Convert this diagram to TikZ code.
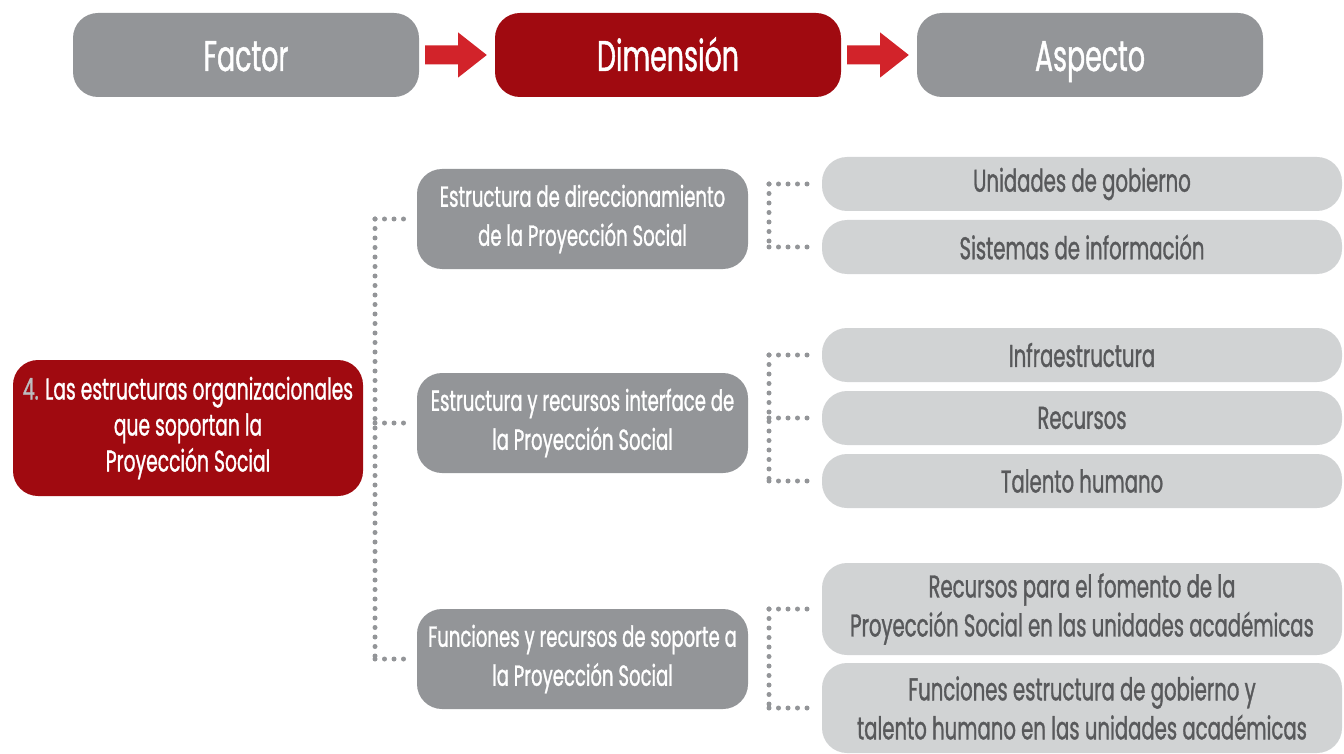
\documentclass[tikz,border=0pt]{standalone}
\usepackage{fontspec}
\setmainfont{Poppins}[FakeStretch=0.624, FakeBold=1]
\usetikzlibrary{calc}
\definecolor{hgray}{HTML}{939598}
\definecolor{hred}{HTML}{A00A10}
\definecolor{lgray}{HTML}{D1D3D4}
\definecolor{ared}{HTML}{D2232A}
\definecolor{tgray}{HTML}{58595B}
\definecolor{ngray}{HTML}{BCBEC0}
\tikzset{
  hdr/.style={rounded corners=25pt, minimum width=346pt, minimum height=84pt, inner sep=0pt, text=white, text height=32pt, text depth=0pt, font=\fontsize{43}{47}\selectfont},
  dimbox/.style={rounded corners=25pt, fill=hgray, minimum width=331pt, minimum height=100pt, inner sep=0pt, text=white, align=center, font=\fontsize{29}{39}\selectfont},
  aspbox/.style={rounded corners=25pt, fill=lgray, minimum width=520pt, minimum height=54pt, inner sep=0pt, text=tgray, align=center, font=\fontsize{31.5}{39}\selectfont},
  factbox/.style={rounded corners=25pt, fill=hred, minimum width=350pt, minimum height=136pt, inner sep=0pt, text=white, align=center, font=\fontsize{30}{36}\selectfont},
  dotline/.style={draw=hgray, line width=5pt, line cap=round, dash pattern=on 0pt off 9.5pt},
}
\begin{document}
\begin{tikzpicture}[x=1pt,y=-1pt]
\useasboundingbox (0,0) rectangle (1344,754);
% header
\node[hdr, fill=hgray] (fac) at (246,55) {Factor};
\node[hdr, fill=hred] (dim) at (668,55) {Dimensión};
\node[hdr, fill=hgray] (asp) at (1090,55) {Aspecto};
\foreach \a/\b in {fac/dim, dim/asp}{
  \fill[ared] ($(\a.east)+(6,-9.5)$) -- ($(\a.east)+(39,-9.5)$) -- ($(\a.east)+(39,-22.5)$)
    -- ($(\b.west)+(-8,0)$) -- ($(\a.east)+(39,22.5)$) -- ($(\a.east)+(39,9.5)$)
    -- ($(\a.east)+(6,9.5)$) -- cycle;
}
% factor
\node[factbox] (f4) at (188,428) {{\color{ngray}4.} Las estructuras organizacionales\\que soportan la\\Proyección Social};
% dimensions
\node[dimbox] (d1) at (582.5,219) {Estructura de direccionamiento\\de la Proyección Social};
\node[dimbox] (d2) at (582.5,423) {Estructura y recursos interface de\\la Proyección Social};
\node[dimbox] (d3) at (582.5,659) {Funciones y recursos de soporte a\\la Proyección Social};
% aspects
\node[aspbox] (a1) at (1082,184) {Unidades de gobierno};
\node[aspbox] (a2) at (1082,247) {Sistemas de información};
\node[aspbox] (a3) at (1082,355) {Infraestructura};
\node[aspbox] (a4) at (1082,418) {Recursos};
\node[aspbox] (a5) at (1082,481) {Talento humano};
\node[aspbox, minimum height=92pt] (a6) at (1082,609) {Recursos para el fomento de la\\Proyección Social en las unidades académicas};
\node[aspbox, minimum height=90pt] (a7) at (1082,708) {Funciones estructura de gobierno y\\talento humano en las unidades académicas};
% left bracket
\coordinate (lx) at (375,0);
\coordinate (lt) at (lx |- d1.west);
\coordinate (lb) at (lx |- d3.west);
\draw[dotline] (lt) -- (lb);
\foreach \d in {d1,d2,d3}{
  \draw[dotline] (lx |- \d.west) -- ($(\d.west)+(-9,0)$);
}
% right brackets
\coordinate (rx) at (769,0);
\draw[dotline] (rx |- a1.west) -- (rx |- a2.west);
\draw[dotline] (rx |- a3.west) -- (rx |- a5.west);
\draw[dotline] (rx |- a6.west) -- (rx |- a7.west);
\foreach \a in {a1,a2,a3,a4,a5,a6,a7}{
  \draw[dotline] (rx |- \a.west) -- ($(\a.west)+(-12,0)$);
}
\end{tikzpicture}
\end{document}
